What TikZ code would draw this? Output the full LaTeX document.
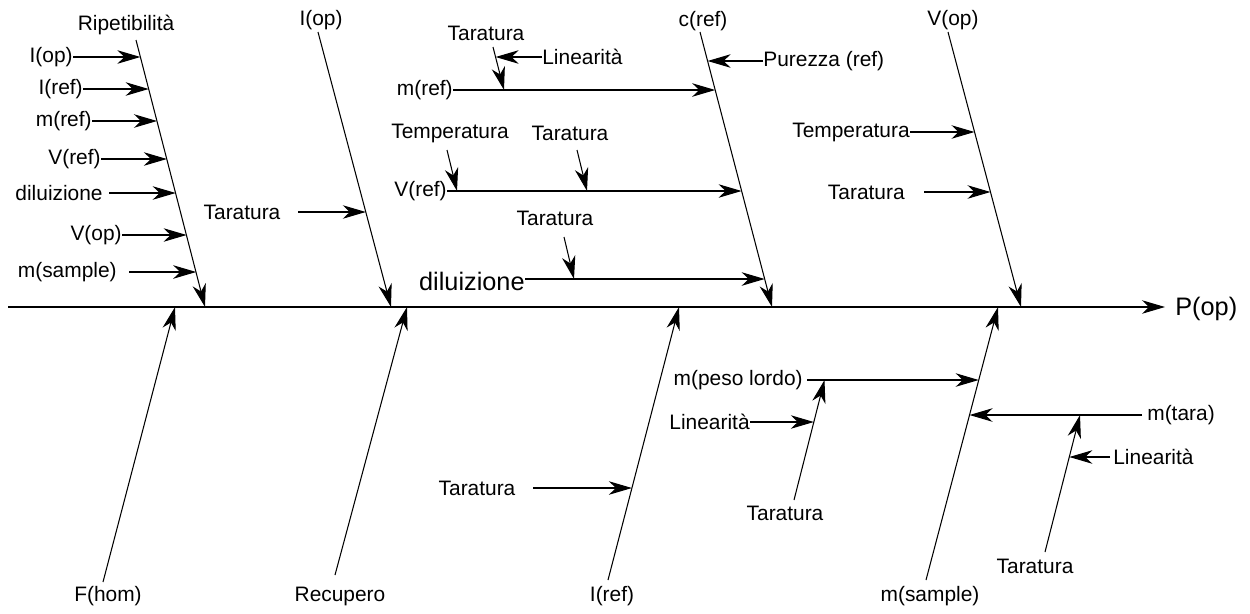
\documentclass[tikz,border=0pt]{standalone}
\usepackage{fontspec}
\setmainfont{Liberation Sans}
\usetikzlibrary{arrows.meta}

\tikzset{
  lbl/.style={font=\fontsize{11.9}{13}\selectfont, inner sep=0pt},
  biglbl/.style={font=\fontsize{14.4}{16}\selectfont, inner sep=0pt},
  line/.style={draw, line width=0.6pt},
  arr/.style={line, -{Stealth[length=0.46cm, width=0.27cm, inset=0.14cm]}}
}

\begin{document}
\begin{tikzpicture}[x=0.02cm, y=-0.02cm]
\useasboundingbox (0,0) rectangle (1250,613);

% ---------- main spine ----------
\coordinate (spineL) at (8,307);
\coordinate (spineR) at (1165,307);
\node[biglbl, anchor=west] (pop) at (1175,309) {P(op)};
\draw[arr] (spineL) -- (spineR);

% ---------- top bone: Ripetibilità ----------
\node[lbl] (ripe) at (126,25) {Ripetibilità};
\coordinate (b1top) at (136,40);
\coordinate (b1tip) at (205,307);
\draw[arr] (b1top) -- (b1tip);

\node[lbl, anchor=east] (r1) at (73,57) {I(op)};
\node[lbl, anchor=east] (r2) at (83,89) {I(ref)};
\node[lbl, anchor=east] (r3) at (92,121) {m(ref)};
\node[lbl, anchor=east] (r4) at (101,159) {V(ref)};
\node[lbl, anchor=east] (r5) at (103,193) {diluizione};
\node[lbl, anchor=east] (r6) at (122,235) {V(op)};
\node[lbl, anchor=east] (r7) at (117,272) {m(sample)};
\coordinate (r5s) at (109,193);
\coordinate (r7s) at (129,272);
\coordinate (h1) at (140.4,57);
\coordinate (h2) at (148.7,89);
\coordinate (h3) at (157.0,121);
\coordinate (h4) at (166.9,159);
\coordinate (h5) at (175.7,193);
\coordinate (h6) at (186.6,235);
\coordinate (h7) at (196.2,272);
\draw[arr] (r1.east) -- (h1);
\draw[arr] (r2.east) -- (h2);
\draw[arr] (r3.east) -- (h3);
\draw[arr] (r4.east) -- (h4);
\draw[arr] (r5s) -- (h5);
\draw[arr] (r6.east) -- (h6);
\draw[arr] (r7s) -- (h7);

% ---------- top bone: I(op) ----------
\node[lbl] (iop) at (321,20) {I(op)};
\coordinate (b2top) at (318,32);
\coordinate (b2tip) at (391,307);
\draw[arr] (b2top) -- (b2tip);
\node[lbl] (tar1) at (242,212) {Taratura};
\coordinate (tar1s) at (298,212);
\coordinate (h8) at (365.8,212);
\draw[arr] (tar1s) -- (h8);

% ---------- top bone: c(ref) ----------
\node[lbl] (cref) at (703,21) {c(ref)};
\coordinate (b3top) at (700,32);
\coordinate (b3tip) at (772,307);
\draw[arr] (b3top) -- (b3tip);

\node[lbl, anchor=west] (pur) at (763,61) {Purezza (ref)};
\coordinate (h9) at (707.6,61);
\draw[arr] (pur.west) -- (h9);

% m(ref) branch
\node[lbl, anchor=east] (mref) at (453,90) {m(ref)};
\coordinate (h10) at (715.2,90);
\draw[arr] (mref.east) -- (h10);
\node[lbl] (tar2) at (486,33) {Taratura};
\coordinate (tar2s) at (493,47);
\coordinate (tar2e) at (504,90);
\draw[arr] (tar2s) -- (tar2e);
\node[lbl, anchor=west] (lin1) at (542,57) {Linearità};
\coordinate (h11) at (495.6,57);
\draw[arr] (lin1.west) -- (h11);

% V(ref) branch
\node[lbl, anchor=east] (vref) at (447,191) {V(ref)};
\coordinate (h12) at (741.6,191);
\draw[arr] (vref.east) -- (h12);
\node[lbl] (temp1) at (450,133) {Temperatura};
\coordinate (temp1s) at (447,150);
\coordinate (temp1e) at (457,191);
\draw[arr] (temp1s) -- (temp1e);
\node[lbl] (tar3) at (570,133) {Taratura};
\coordinate (tar3s) at (577,150);
\coordinate (tar3e) at (587,191);
\draw[arr] (tar3s) -- (tar3e);

% diluizione branch
\node[biglbl, anchor=east] (dil) at (525,281) {diluizione};
\coordinate (h13) at (764.7,279);
\draw[arr] (dil.east |- h13) -- (h13);
\node[lbl] (tar4) at (555,218) {Taratura};
\coordinate (tar4s) at (564,237);
\coordinate (tar4e) at (574,279);
\draw[arr] (tar4s) -- (tar4e);

% ---------- top bone: V(op) ----------
\node[lbl] (vop) at (953,20) {V(op)};
\coordinate (b4top) at (948,32);
\coordinate (b4tip) at (1021,307);
\draw[arr] (b4top) -- (b4tip);
\node[lbl, anchor=east] (temp2) at (910,132) {Temperatura};
\coordinate (h14) at (974.5,132);
\draw[arr] (temp2.east) -- (h14);
\node[lbl, anchor=east] (tar5) at (905,192) {Taratura};
\coordinate (tar5s) at (924,192);
\coordinate (h15) at (990.5,192);
\draw[arr] (tar5s) -- (h15);

% ---------- bottom bone: F(hom) ----------
\node[lbl] (fhom) at (108,596) {F(hom)};
\coordinate (b5bot) at (103,582);
\coordinate (b5tip) at (175,307);
\draw[arr] (b5bot) -- (b5tip);

% ---------- bottom bone: Recupero ----------
\node[lbl] (rec) at (340,596) {Recupero};
\coordinate (b6bot) at (335,575);
\coordinate (b6tip) at (407,307);
\draw[arr] (b6bot) -- (b6tip);

% ---------- bottom bone: I(ref) ----------
\node[lbl] (iref) at (612,596) {I(ref)};
\coordinate (b7bot) at (608,580);
\coordinate (b7tip) at (679,307);
\draw[arr] (b7bot) -- (b7tip);
\node[lbl] (tar6) at (477,488) {Taratura};
\coordinate (tar6s) at (533,488);
\coordinate (h16) at (631.9,488);
\draw[arr] (tar6s) -- (h16);

% ---------- bottom bone: m(sample) ----------
\node[lbl] (msam) at (930,596) {m(sample)};
\coordinate (b8bot) at (926,580);
\coordinate (b8tip) at (998,307);
\draw[arr] (b8bot) -- (b8tip);

% m(peso lordo) branch
\node[lbl, anchor=east] (mpl) at (803,380) {m(peso lordo)};
\coordinate (mpls) at (807,380);
\coordinate (h17) at (978.7,380);
\draw[arr] (mpls) -- (h17);
\node[lbl, anchor=east] (lin2) at (750,422) {Linearità};
\coordinate (h18) at (813.8,422);
\draw[arr] (lin2.east) -- (h18);
\node[lbl] (tar7) at (785,513) {Taratura};
\coordinate (tar7s) at (794,500);
\coordinate (tar7e) at (824.5,380);
\draw[arr] (tar7s) -- (tar7e);

% m(tara) branch
\node[lbl, anchor=west] (mtara) at (1147,415) {m(tara)};
\coordinate (mtaras) at (1142,415);
\coordinate (h19) at (969.5,415);
\draw[arr] (mtaras) -- (h19);
\node[lbl, anchor=west] (lin3) at (1113,457) {Linearità};
\coordinate (lin3s) at (1110,457);
\coordinate (h20) at (1069.3,457);
\draw[arr] (lin3s) -- (h20);
\node[lbl] (tar8) at (1035,566) {Taratura};
\coordinate (tar8s) at (1045,552);
\coordinate (tar8e) at (1080,415);
\draw[arr] (tar8s) -- (tar8e);
\end{tikzpicture}
\end{document}
